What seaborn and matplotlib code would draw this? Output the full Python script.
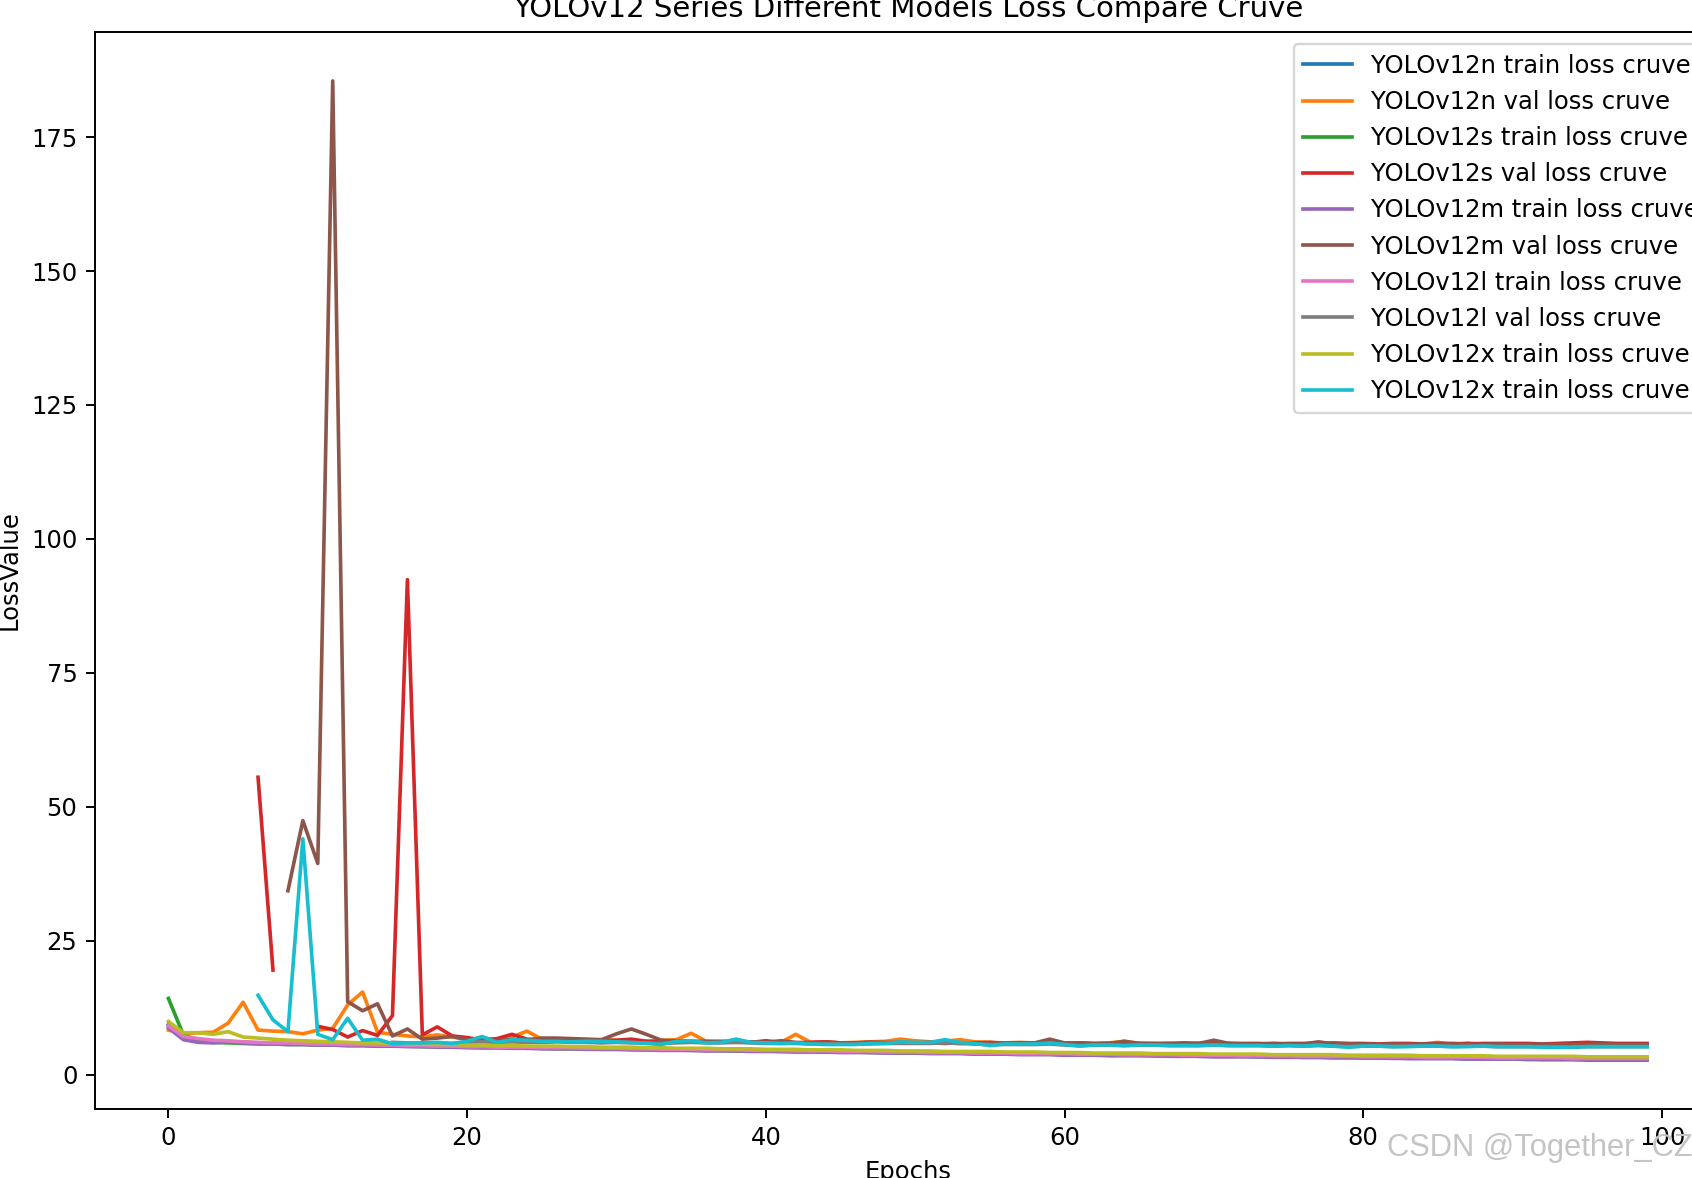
import numpy as np
import pandas as pd
import seaborn as sns
import matplotlib.pyplot as plt
from matplotlib.lines import Line2D

nan = np.nan
epochs = list(range(100))

# train losses
n_train = [9.3, 7.0, 6.6, 6.2, 6.1, 6.0, 5.9, 5.8, 5.8, 5.7,
           5.6, 5.6, 5.5, 5.5, 5.4, 5.4, 5.3, 5.3, 5.2, 5.2,
           5.1, 5.1, 5.1, 5.0, 5.0, 4.9, 4.9, 4.9, 4.8, 4.8,
           4.8, 4.7, 4.7, 4.6, 4.6, 4.6, 4.5, 4.5, 4.5, 4.4,
           4.4, 4.4, 4.3, 4.3, 4.3, 4.2, 4.2, 4.2, 4.1, 4.1,
           4.1, 4.0, 4.0, 4.0, 3.9, 3.9, 3.9, 3.8, 3.8, 3.8,
           3.7, 3.7, 3.7, 3.6, 3.6, 3.6, 3.5, 3.5, 3.5, 3.4,
           3.4, 3.4, 3.4, 3.3, 3.3, 3.3, 3.2, 3.2, 3.2, 3.2,
           3.1, 3.1, 3.1, 3.0, 3.0, 3.0, 3.0, 2.9, 2.9, 2.9,
           2.9, 2.8, 2.8, 2.8, 2.8, 2.7, 2.7, 2.7, 2.7, 2.7]
s_train = [14.2, 7.4, 6.4, 6.0, 5.9, 5.8, 5.7, 5.7, 5.6, 5.6,
           5.5, 5.5, 5.4, 5.4, 5.3, 5.3, 5.3, 5.2, 5.2, 5.1,
           5.1, 5.0, 5.0, 5.0, 4.9, 4.9, 4.8, 4.8, 4.8, 4.7,
           4.7, 4.7, 4.6, 4.6, 4.6, 4.5, 4.5, 4.5, 4.4, 4.4,
           4.4, 4.3, 4.3, 4.3, 4.2, 4.2, 4.2, 4.1, 4.1, 4.1,
           4.0, 4.0, 4.0, 4.0, 3.9, 3.9, 3.9, 3.8, 3.8, 3.8,
           3.8, 3.7, 3.7, 3.7, 3.6, 3.6, 3.6, 3.6, 3.5, 3.5,
           3.5, 3.5, 3.4, 3.4, 3.4, 3.4, 3.3, 3.3, 3.3, 3.3,
           3.2, 3.2, 3.2, 3.2, 3.1, 3.1, 3.1, 3.1, 3.1, 3.0,
           3.0, 3.0, 3.0, 3.0, 2.9, 2.9, 2.9, 2.9, 2.9, 2.9]
m_train = [8.7, 6.5, 6.0, 5.9, 6.1, 5.9, 5.8, 5.7, 5.6, 5.6,
           5.5, 5.5, 5.4, 5.4, 5.3, 5.3, 5.2, 5.2, 5.1, 5.1,
           5.0, 5.0, 5.0, 4.9, 4.9, 4.8, 4.8, 4.8, 4.7, 4.7,
           4.7, 4.6, 4.6, 4.5, 4.5, 4.5, 4.4, 4.4, 4.4, 4.3,
           4.3, 4.3, 4.2, 4.2, 4.2, 4.1, 4.1, 4.1, 4.0, 4.0,
           4.0, 3.9, 3.9, 3.9, 3.8, 3.8, 3.8, 3.7, 3.7, 3.7,
           3.6, 3.6, 3.6, 3.5, 3.5, 3.5, 3.5, 3.4, 3.4, 3.4,
           3.3, 3.3, 3.3, 3.3, 3.2, 3.2, 3.2, 3.2, 3.1, 3.1,
           3.1, 3.1, 3.0, 3.0, 3.0, 3.0, 3.0, 2.9, 2.9, 2.9,
           2.9, 2.9, 2.8, 2.8, 2.8, 2.8, 2.8, 2.8, 2.8, 2.8]
l_train = [9.1, 7.1, 6.7, 6.4, 6.3, 6.1, 6.0, 5.9, 5.9, 5.8,
           5.7, 5.7, 5.6, 5.6, 5.5, 5.5, 5.4, 5.4, 5.3, 5.3,
           5.2, 5.2, 5.1, 5.1, 5.1, 5.0, 5.0, 5.0, 4.9, 4.9,
           4.9, 4.8, 4.8, 4.7, 4.7, 4.7, 4.6, 4.6, 4.6, 4.5,
           4.5, 4.5, 4.4, 4.4, 4.4, 4.3, 4.3, 4.3, 4.2, 4.2,
           4.2, 4.1, 4.1, 4.1, 4.0, 4.0, 4.0, 3.9, 3.9, 3.9,
           3.9, 3.8, 3.8, 3.8, 3.7, 3.7, 3.7, 3.7, 3.6, 3.6,
           3.6, 3.6, 3.5, 3.5, 3.5, 3.5, 3.4, 3.4, 3.4, 3.4,
           3.3, 3.3, 3.3, 3.3, 3.2, 3.2, 3.2, 3.2, 3.2, 3.1,
           3.1, 3.1, 3.1, 3.1, 3.0, 3.0, 3.0, 3.0, 3.0, 3.0]
x_train = [9.9, 7.8, 7.8, 7.5, 8.0, 7.0, 6.8, 6.6, 6.4, 6.3,
           6.2, 6.1, 6.0, 5.9, 5.9, 5.8, 5.7, 5.7, 5.6, 5.6,
           5.5, 5.5, 5.4, 5.4, 5.3, 5.3, 5.3, 5.2, 5.2, 5.1,
           5.1, 5.1, 5.0, 5.0, 4.9, 4.9, 4.9, 4.8, 4.8, 4.8,
           4.7, 4.7, 4.7, 4.6, 4.6, 4.6, 4.5, 4.5, 4.5, 4.4,
           4.4, 4.4, 4.3, 4.3, 4.3, 4.3, 4.2, 4.2, 4.2, 4.1,
           4.1, 4.1, 4.0, 4.0, 4.0, 4.0, 3.9, 3.9, 3.9, 3.9,
           3.8, 3.8, 3.8, 3.8, 3.7, 3.7, 3.7, 3.7, 3.7, 3.6,
           3.6, 3.6, 3.6, 3.6, 3.5, 3.5, 3.5, 3.5, 3.5, 3.4,
           3.4, 3.4, 3.4, 3.4, 3.4, 3.3, 3.3, 3.3, 3.3, 3.3]

# val losses (nan = missing epochs)
n_val = [8.3, 7.6, 7.8, 7.9, 9.6, 13.5, 8.3, 8.1, 8.0, 7.6,
         8.3, 8.6, 13.0, 15.4, 7.9, 7.5, 7.2, 7.0, 7.4, 7.0,
         6.6, 6.8, 6.5, 7.0, 8.1, 6.6, 6.5, 6.6, 6.4, 6.5,
         6.4, 6.3, 6.2, 6.4, 6.5, 7.7, 6.2, 6.1, 6.3, 6.0,
         6.1, 6.0, 7.5, 6.0, 6.1, 5.9, 6.0, 6.1, 6.2, 6.6,
         6.3, 6.1, 6.2, 6.5, 6.1, 6.0, 5.9, 6.0, 5.9, 5.9,
         5.8, 5.9, 5.8, 5.9, 6.2, 5.8, 5.8, 5.7, 5.8, 5.8,
         5.7, 5.8, 5.7, 5.7, 5.8, 5.7, 5.7, 5.6, 5.7, 5.6,
         5.6, 5.7, 5.6, 5.6, 5.7, 6.0, 5.6, 5.9, 5.6, 5.6,
         5.6, 5.5, 5.6, 5.5, 5.6, 5.5, 5.5, 5.6, 5.5, 5.5]
s_val = [nan, nan, nan, nan, nan, nan, 55.5, 19.5, nan, nan,
         9.0, 8.4, 7.0, 8.2, 7.3, 11.0, 92.4, 7.4, 8.9, 7.2,
         6.9, 6.4, 6.7, 7.5, 6.6, 6.5, 6.6, 6.4, 6.5, 6.3,
         6.4, 6.6, 6.2, 6.1, 6.3, 6.2, 6.1, 6.2, 6.1, 6.0,
         6.3, 6.0, 5.9, 6.0, 6.1, 5.9, 5.9, 6.0, 5.9, 6.0,
         5.9, 6.0, 5.9, 5.8, 5.9, 6.0, 5.8, 5.9, 5.8, 6.2,
         5.8, 5.9, 5.8, 5.8, 5.9, 5.8, 5.8, 5.8, 5.9, 5.8,
         5.9, 5.8, 5.8, 5.8, 5.7, 5.8, 5.8, 5.8, 5.9, 5.8,
         5.8, 5.7, 5.8, 5.8, 5.7, 5.8, 5.8, 5.7, 5.8, 5.8,
         5.8, 5.8, 5.7, 5.8, 5.9, 6.0, 5.9, 5.8, 5.8, 5.8]
m_val = [nan, nan, nan, nan, nan, nan, nan, nan, 34.3, 47.4,
         39.4, 185.5, 13.6, 11.9, 13.2, 7.2, 8.5, 6.6, 6.8, 7.1,
         6.5, 6.4, 6.3, 6.5, 6.4, 6.8, 6.8, 6.7, 6.6, 6.5,
         7.6, 8.5, 7.5, 6.4, 6.2, 6.1, 6.2, 6.1, 6.0, 6.1,
         6.0, 6.3, 6.0, 5.9, 6.0, 5.9, 5.9, 6.0, 6.0, 5.9,
         5.9, 5.9, 5.8, 5.9, 5.8, 5.8, 5.9, 5.8, 5.9, 6.6,
         5.9, 5.8, 5.7, 5.8, 6.2, 5.8, 5.7, 5.8, 5.7, 5.8,
         6.4, 5.8, 5.7, 5.7, 5.8, 5.7, 5.7, 6.1, 5.7, 5.7,
         5.7, 5.6, 5.7, 5.6, 5.7, 5.6, 5.7, 5.6, 5.6, 5.7,
         5.6, 5.6, 5.7, 5.6, 5.6, 5.6, 5.7, 5.6, 5.6, 5.6]
l_val = [nan, nan, nan, nan, nan, nan, nan, nan, nan, nan,
         nan, nan, nan, nan, nan, 6.0, 5.9, 5.9, 5.8, 5.8,
         6.0, 6.1, 6.0, 6.1, 6.0, 6.0, 6.1, 6.0, 6.0, 5.9,
         6.0, 5.9, 5.9, 5.8, 5.9, 6.0, 5.9, 5.9, 6.0, 5.9,
         5.8, 5.8, 5.8, 5.7, 5.7, 5.7, 5.7, 5.7, 5.8, 5.8,
         5.8, 5.8, 5.9, 5.8, 5.7, 5.6, 5.6, 5.6, 5.6, 5.7,
         5.5, 5.4, 5.5, 5.5, 5.4, 5.5, 5.5, 5.4, 5.4, 5.4,
         5.5, 5.4, 5.4, 5.4, 5.3, 5.4, 5.3, 5.4, 5.3, 5.2,
         5.3, 5.3, 5.2, 5.3, 5.3, 5.3, 5.2, 5.3, 5.3, 5.2,
         5.2, 5.2, 5.2, 5.1, 5.1, 5.2, 5.2, 5.2, 5.2, 5.2]
x_val = [nan, nan, nan, nan, nan, nan, 14.8, 10.2, 8.0, 44.0,
         7.5, 6.5, 10.5, 6.4, 6.6, 5.7, 5.9, 5.9, 6.0, 5.8,
         6.2, 7.1, 6.0, 6.5, 6.4, 6.2, 6.2, 6.1, 6.2, 6.2,
         6.1, 6.0, 5.8, 5.6, 6.2, 6.3, 5.9, 6.0, 6.6, 6.0,
         5.9, 5.8, 5.9, 5.7, 5.6, 5.6, 5.6, 5.8, 5.8, 6.1,
         6.0, 6.0, 6.5, 6.0, 5.8, 5.4, 5.7, 5.7, 5.7, 5.9,
         5.6, 5.3, 5.5, 5.5, 5.4, 5.5, 5.5, 5.4, 5.4, 5.4,
         5.5, 5.4, 5.4, 5.4, 5.3, 5.4, 5.3, 5.5, 5.3, 5.1,
         5.3, 5.3, 5.2, 5.2, 5.3, 5.3, 5.2, 5.2, 5.3, 5.2,
         5.2, 5.2, 5.1, 5.1, 5.1, 5.2, 5.2, 5.2, 5.2, 5.2]

curve_keys = ["n_train", "n_val", "s_train", "s_val", "m_train",
              "m_val", "l_train", "l_val", "x_train", "x_val"]
curve_values = [n_train, n_val, s_train, s_val, m_train,
                m_val, l_train, l_val, x_train, x_val]
legend_labels = ["YOLOv12n train loss cruve", "YOLOv12n val loss cruve",
                 "YOLOv12s train loss cruve", "YOLOv12s val loss cruve",
                 "YOLOv12m train loss cruve", "YOLOv12m val loss cruve",
                 "YOLOv12l train loss cruve", "YOLOv12l val loss cruve",
                 "YOLOv12x train loss cruve", "YOLOv12x train loss cruve"]

# long form table, a new segment after each missing epoch so gaps stay open
frames = []
for key, vals in zip(curve_keys, curve_values):
    vals = np.array(vals, dtype=float)
    frames.append(pd.DataFrame({"Epochs": epochs,
                                "LossValue": vals,
                                "Curve": key,
                                "Segment": np.cumsum(np.isnan(vals))}))
loss_data = pd.concat(frames, ignore_index=True).dropna()

DPI = 175
fig = plt.figure(figsize=(1692 / DPI, 1178 / DPI), dpi=DPI)
# axes run past the right edge, like the cropped screenshot
ax = fig.add_axes([94.5 / 1692, 69 / 1178, 1626.5 / 1692, 1077 / 1178])

palette = sns.color_palette("tab10", 10)
sns.lineplot(data=loss_data, x="Epochs", y="LossValue",
             hue="Curve", hue_order=curve_keys, palette=palette,
             units="Segment", estimator=None, linewidth=1.5,
             legend=False, ax=ax)

ax.set_title("YOLOv12 Series Different Models Loss Compare Cruve")
handles = [Line2D([], [], color=c, linewidth=1.5) for c in palette]
ax.legend(handles, legend_labels, loc="upper right")

# watermark from the screenshot
fig.text(1387 / 1692, 1 - 1156 / 1178, "CSDN @Together_CZ",
         family="Liberation Sans", fontsize=12.7, color="#c4c4c4",
         va="baseline", ha="left")

fig.savefig("out.png", dpi=DPI)
